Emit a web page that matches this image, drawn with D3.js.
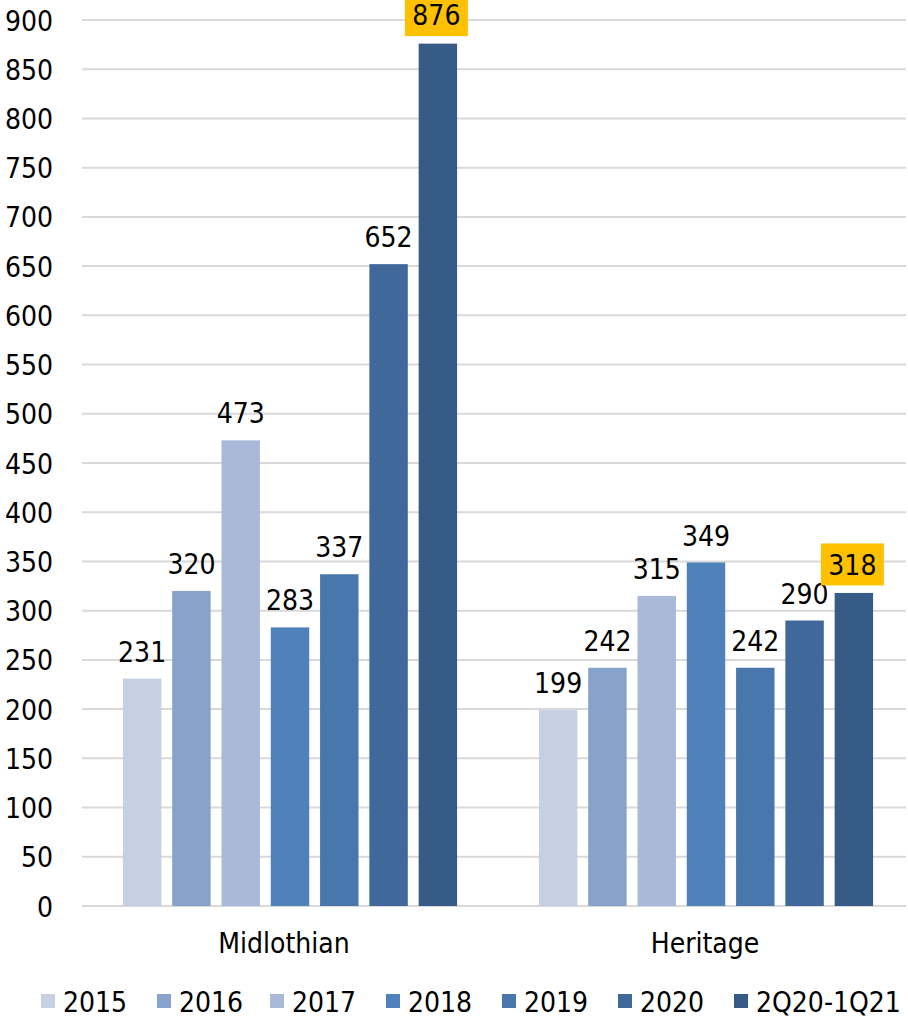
<!DOCTYPE html>
<html>
<head>
<meta charset="utf-8">
<script src="https://cdn.jsdelivr.net/npm/d3@7"></script>
<style>
  html, body { margin: 0; padding: 0; background: #fff; }
  svg text { font-family: "DejaVu Sans Condensed", "DejaVu Sans", sans-serif; font-stretch: condensed; fill: #000; }
</style>
</head>
<body>
<svg id="chart" width="908" height="1019"></svg>
<script>
// Groups, series and values
const categories = ["Midlothian", "Heritage"];
const seriesNames = ["2015", "2016", "2017", "2018", "2019", "2020", "2Q20-1Q21"];
const midlothianValues = [231, 320, 473, 283, 337, 652, 876];
const heritageValues = [199, 242, 315, 349, 242, 290, 318];
const yTicks = [0, 50, 100, 150, 200, 250, 300, 350, 400, 450, 500, 550, 600, 650, 700, 750, 800, 850, 900];
const seriesColors = ["#c5d0e3", "#87a2cb", "#abb9d8", "#4f81bd", "#4a76ae", "#41689b", "#375b87"];
const highlightSeries = "2Q20-1Q21";

const valuesByCategory = { "Midlothian": midlothianValues, "Heritage": heritageValues };

const svg = d3.select("#chart");
const plotLeft = 82, plotRight = 914, plotTop = 20, plotBottom = 906;
const fontSize = "28px";

const y = d3.scaleLinear().domain([0, 900]).range([plotBottom, plotTop]);
const x0 = d3.scaleBand().domain(categories).range([plotLeft, plotRight]).paddingInner(0).paddingOuter(0);
const x1 = d3.scaleBand().domain(seriesNames).range([0, x0.bandwidth()])
  .paddingInner(0.22).paddingOuter(0.83);

// gridlines
svg.append("g")
  .selectAll("line")
  .data(yTicks)
  .join("line")
  .attr("x1", plotLeft).attr("x2", 906)
  .attr("y1", d => y(d)).attr("y2", d => y(d))
  .attr("stroke", "#d9d9d9").attr("stroke-width", 2);

// y axis labels
const yAxis = d3.axisLeft(y).tickValues(yTicks).tickSize(0).tickPadding(0).tickFormat(d3.format("d"));
const yg = svg.append("g").attr("transform", `translate(${plotLeft - 29},0)`).call(yAxis);
yg.select(".domain").remove();
yg.selectAll("text").style("font-size", fontSize).style("font-family", null)
  .attr("dy", "0.36em").attr("fill", "#000");

// bars
const groups = svg.append("g").selectAll("g")
  .data(categories)
  .join("g")
  .attr("transform", c => `translate(${x0(c)},0)`);

groups.selectAll("rect")
  .data(c => seriesNames.map((s, i) => ({ s, i, v: valuesByCategory[c][i] })))
  .join("rect")
  .attr("x", d => x1(d.s))
  .attr("width", x1.bandwidth())
  .attr("y", d => y(d.v))
  .attr("height", d => y(0) - y(d.v))
  .attr("fill", d => seriesColors[d.i]);

// value labels
groups.each(function(c) {
  const g = d3.select(this);
  seriesNames.forEach((s, i) => {
    const v = valuesByCategory[c][i];
    const cx = x1(s) + x1.bandwidth() / 2;
    const highlighted = s === highlightSeries;
    const cy = y(v) - (highlighted ? 28.5 : 27);
    if (highlighted) {
      g.append("rect")
        .attr("x", cx - 33).attr("y", cy - 21)
        .attr("width", 63).attr("height", 42)
        .attr("fill", "#ffc000");
    }
    g.append("text")
      .attr("x", highlighted ? cx - 1.5 : cx).attr("y", cy)
      .attr("dy", "0.36em")
      .attr("text-anchor", "middle")
      .style("font-size", fontSize)
      .text(v);
  });
});

// category labels
svg.append("g").selectAll("text")
  .data(categories)
  .join("text")
  .attr("x", (c, i) => x0(c) + x0.bandwidth() / 2 - (i === 0 ? 6 : 1))
  .attr("y", 943)
  .attr("dy", "0.36em")
  .attr("text-anchor", "middle")
  .style("font-size", fontSize)
  .text(c => c);

// legend
const legendX = [41, 157, 270, 386, 502, 618, 734];
const legend = svg.append("g").selectAll("g")
  .data(seriesNames)
  .join("g")
  .attr("transform", (s, i) => `translate(${legendX[i]},1002)`);
legend.append("rect")
  .attr("x", 0).attr("y", -8).attr("width", 14).attr("height", 14)
  .attr("fill", (s, i) => seriesColors[i]);
legend.append("text")
  .attr("x", 22).attr("y", 0).attr("dy", "0.36em")
  .style("font-size", fontSize)
  .text(s => s);
</script>
</body>
</html>
